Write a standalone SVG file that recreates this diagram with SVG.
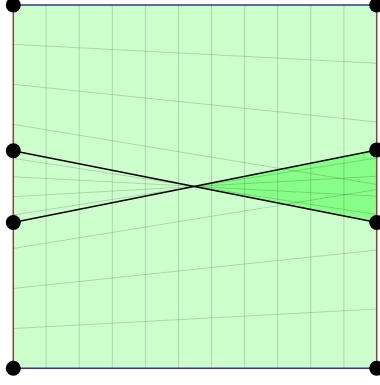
<svg xmlns="http://www.w3.org/2000/svg" width="380" height="385" viewBox="0 0 380 385">
<style>
.grid{stroke:#000;stroke-opacity:0.16;stroke-width:1;fill:none}
.fan{stroke:#000;stroke-opacity:0.2;stroke-width:0.8;fill:none}
.seg{stroke:#000;stroke-width:1.5;fill:none}
.hedge{stroke:#333399;stroke-width:1.5}
.vedge{stroke:#884444;stroke-width:1.5}
.dot{fill:#000}
</style>
<rect width="380" height="385" fill="#ffffff"/>
<g id="plane">
<rect x="13" y="5" width="364" height="363.3" fill="#ccffcc"/>
<polygon points="195,186.4 377,150 377,222.5" fill="#88ff88"/>
<g class="grid">
<line x1="46.1" y1="5" x2="46.1" y2="368.3"/>
<line x1="79.2" y1="5" x2="79.2" y2="368.3"/>
<line x1="112.3" y1="5" x2="112.3" y2="368.3"/>
<line x1="145.4" y1="5" x2="145.4" y2="368.3"/>
<line x1="178.5" y1="5" x2="178.5" y2="368.3"/>
<line x1="211.5" y1="5" x2="211.5" y2="368.3"/>
<line x1="244.6" y1="5" x2="244.6" y2="368.3"/>
<line x1="277.7" y1="5" x2="277.7" y2="368.3"/>
<line x1="310.8" y1="5" x2="310.8" y2="368.3"/>
<line x1="343.9" y1="5" x2="343.9" y2="368.3"/>
</g>
<g class="fan">
<line x1="13" y1="44.3" x2="377" y2="63.3"/>
<line x1="13" y1="84.3" x2="377" y2="122"/>
<line x1="13" y1="124.3" x2="377" y2="184.5"/>
<line x1="13" y1="158.3" x2="377" y2="214.6"/>
<line x1="13" y1="176.7" x2="377" y2="196.2"/>
<line x1="13" y1="196.7" x2="377" y2="176.2"/>
<line x1="13" y1="215" x2="377" y2="158"/>
<line x1="13" y1="248.5" x2="377" y2="189.5"/>
<line x1="13" y1="288.5" x2="377" y2="250"/>
<line x1="13" y1="328.5" x2="377" y2="309"/>
</g>
</g>
<g id="connectors">
<line class="seg" x1="13" y1="150.7" x2="377" y2="222.5"/>
<line class="seg" x1="13" y1="222.5" x2="377" y2="150"/>
<line class="hedge" x1="13" y1="5" x2="377" y2="5"/>
<line class="hedge" x1="13" y1="368.3" x2="377" y2="368.3"/>
<line class="vedge" x1="13.3" y1="5" x2="13.3" y2="368.3"/>
<line class="vedge" x1="376.7" y1="5" x2="376.7" y2="368.3"/>
</g>
<g id="p1"><circle class="dot" cx="13.3" cy="5" r="7.5"/></g>
<g id="p2"><circle class="dot" cx="376.7" cy="5" r="7.5"/></g>
<g id="p3"><circle class="dot" cx="13.3" cy="150.7" r="7.5"/></g>
<g id="p4"><circle class="dot" cx="376.7" cy="150" r="7.5"/></g>
<g id="p5"><circle class="dot" cx="13.3" cy="222.5" r="7.5"/></g>
<g id="p6"><circle class="dot" cx="376.7" cy="222.5" r="7.5"/></g>
<g id="p7"><circle class="dot" cx="13.3" cy="368.3" r="7.5"/></g>
<g id="p8"><circle class="dot" cx="376.7" cy="368.3" r="7.5"/></g>
</svg>
